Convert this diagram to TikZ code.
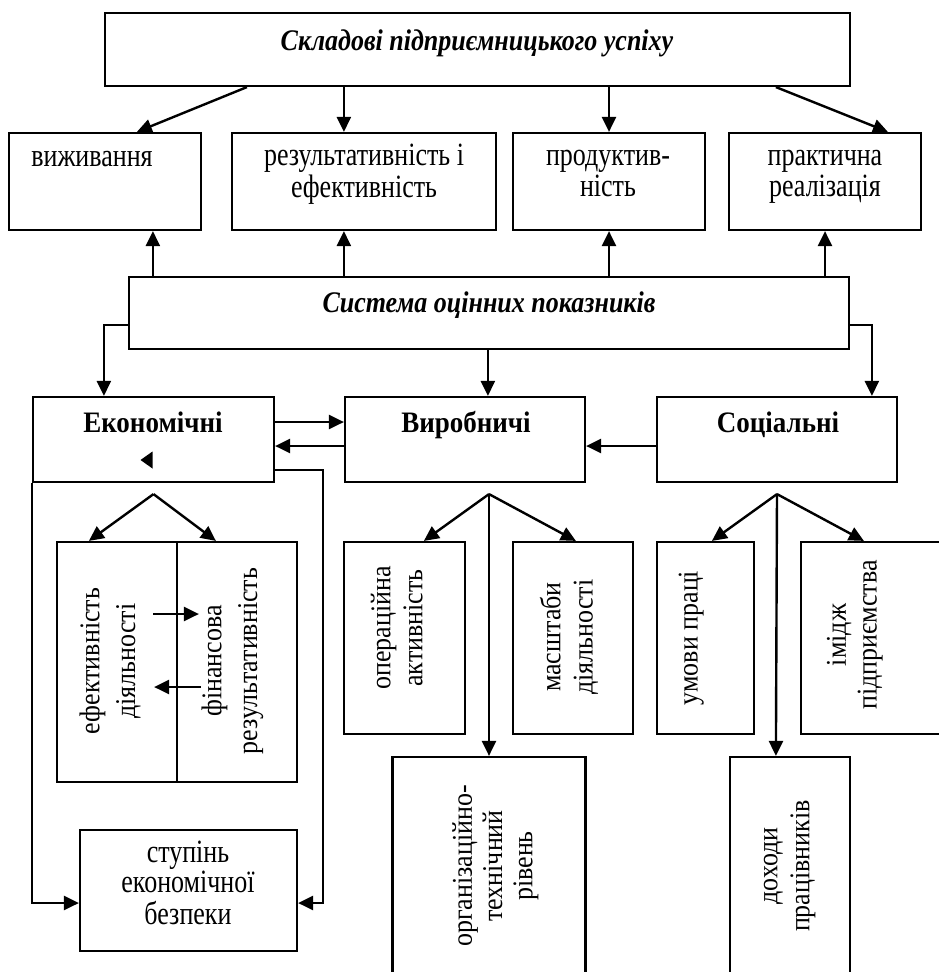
\documentclass[tikz,border=0pt]{standalone}
\usepackage{fontspec}
\usepackage{graphicx}
\setmainfont{Liberation Serif}
\usetikzlibrary{arrows.meta,calc}
\newcommand{\stretchtxt}[2]{\scalebox{1}[#1]{\begin{tabular}{@{}c@{}}#2\end{tabular}}}
\begin{document}
\begin{tikzpicture}[x=1pt,y=-1pt,
  box/.style={draw,line width=2.2pt,inner sep=0pt},
  lbl/.style={align=center,inner sep=0pt,font=\fontsize{26}{24}\selectfont},
  vlbl/.style={lbl,rotate=90},
  arr/.style={line width=2.4pt,-{Triangle[length=15pt,width=14pt]}},
  ln/.style={line width=2.4pt}]
\useasboundingbox (0,0) rectangle (939,972);
\fill[white] (0,0) rectangle (939,972);
\clip (0,0) rectangle (939,972);

% top
\node[box,minimum width=745pt,minimum height=73pt] (top) at (477.5,49.5) {};
\node[lbl,font=\fontsize{26}{24}\selectfont\bfseries\itshape] (toptxt) at (477,44) {\stretchtxt{1.15}{Складові підприємницького успіху}};

% row 2
\node[box,minimum width=192pt,minimum height=97pt] (viz) at (105,181.5) {};
\node[box,minimum width=264pt,minimum height=97pt] (rez) at (364,181.5) {};
\node[box,minimum width=192pt,minimum height=97pt] (prod) at (609,181.5) {};
\node[box,minimum width=192pt,minimum height=97pt] (prak) at (825,181.5) {};
\node[lbl] (viztxt) at (92,160) {\stretchtxt{1.25}{виживання}};
\node[lbl] (reztxt) at (364,175) {\stretchtxt{1.25}{результативність і\\ефективність}};
\node[lbl] (prodtxt) at (608,175) {\stretchtxt{1.25}{продуктив-\\ність}};
\node[lbl] (praktxt) at (825,175) {\stretchtxt{1.25}{практична\\реалізація}};

% system
\node[box,minimum width=720pt,minimum height=72pt] (sys) at (489,313) {};
\node[lbl,font=\fontsize{26}{24}\selectfont\bfseries\itshape] (systxt) at (489,306) {\stretchtxt{1.15}{Система оцінних показників}};

% row 3
\node[box,minimum width=241pt,minimum height=85pt] (ek) at (153.5,439.5) {};
\node[box,minimum width=240pt,minimum height=85pt] (vyr) at (465,439.5) {};
\node[box,minimum width=240pt,minimum height=85pt] (soc) at (777,439.5) {};
\node[lbl,font=\fontsize{27}{24}\selectfont\bfseries] (ektxt) at (153,426) {\stretchtxt{1.1}{Економічні}};
\node[lbl,font=\fontsize{27}{24}\selectfont\bfseries] (vyrtxt) at (466,426) {\stretchtxt{1.1}{Виробничі}};
\node[lbl,font=\fontsize{27}{24}\selectfont\bfseries] (soctxt) at (778,426) {\stretchtxt{1.1}{Соціальні}};

% economic sub-boxes
\node[box,minimum width=120pt,minimum height=240pt] (ef) at (117,662) {};
\node[box,minimum width=120pt,minimum height=240pt] (fin) at (237,662) {};
\node[vlbl,font=\fontsize{26}{32.5}\selectfont] (eftxt) at (110,661) {\stretchtxt{1.1}{ефективність\\діяльності}};
\node[vlbl,font=\fontsize{26}{32.5}\selectfont] (fintxt) at (232,661) {\stretchtxt{1.1}{фінансова\\результативність}};
\node[box,minimum width=217pt,minimum height=121pt] (stup) at (188.5,890.5) {};
\node[lbl,font=\fontsize{26}{23.2}\selectfont] (stuptxt) at (188,887) {\stretchtxt{1.25}{ступінь\\економічної\\безпеки}};

% production sub-boxes
\node[box,minimum width=121pt,minimum height=192pt] (oper) at (404.5,638) {};
\node[box,minimum width=120pt,minimum height=192pt] (masht) at (573,638) {};
\node[box,minimum width=193pt,minimum height=250pt] (org) at (489,882) {};
\node[vlbl,font=\fontsize{26}{29}\selectfont] (opertxt) at (400,628) {\stretchtxt{1.1}{операційна\\активність}};
\node[vlbl,font=\fontsize{26}{29.5}\selectfont] (mashttxt) at (570,637) {\stretchtxt{1.1}{масштаби\\діяльності}};
\node[vlbl,font=\fontsize{26}{27.5}\selectfont] (orgtxt) at (496,866) {\stretchtxt{1.1}{організаційно-\\технічний\\рівень}};

% social sub-boxes
\node[box,minimum width=97pt,minimum height=192pt] (umov) at (705.5,638) {};
\node[box,minimum width=160pt,minimum height=192pt] (imid) at (881,638) {};
\node[box,minimum width=120pt,minimum height=250pt] (dox) at (790,882) {};
\node[vlbl] (umovtxt) at (692,638) {\stretchtxt{1.1}{умови праці}};
\node[vlbl,font=\fontsize{26}{28}\selectfont] (imidtxt) at (855,635) {\stretchtxt{1.1}{імідж\\підприємства}};
\node[vlbl,font=\fontsize{26}{29}\selectfont] (doxtxt) at (787,866) {\stretchtxt{1.1}{доходи\\працівників}};

% top -> row 2
\draw[arr] ($(top.south west)+(143,0)$) -- ($(viz.north west)+(129,0)$);
\draw[arr] ($(top.south west)+(240,0)$) -- ($(rez.north west)+(113,0)$);
\draw[arr] (top.south -| prod.north) -- (prod.north);
\draw[arr] ($(top.south west)+(672,0)$) -- ($(prak.north west)+(160,0)$);

% system -> row 2
\draw[arr] ($(sys.north west)+(25,0)$) -- ($(viz.south west)+(145,0)$);
\draw[arr] ($(sys.north west)+(216,0)$) -- ($(rez.south west)+(113,0)$);
\draw[arr] (sys.north -| prod.south) -- (prod.south);
\draw[arr] (sys.north -| prak.south) -- (prak.south);

% system -> row 3
\draw[arr] ($(sys.west)+(0,12)$) -| ($(ek.north west)+(72,0)$);
\draw[arr] ($(sys.south west)+(360,0)$) -- ($(vyr.north west)+(144,0)$);
\draw[arr] ($(sys.east)+(0,12)$) -| ($(soc.north west)+(216,0)$);

% row 3 cross arrows
\draw[arr] ($(ek.east)+(0,-17.5)$) -- ($(vyr.west)+(0,-17.5)$);
\draw[arr] ($(vyr.west)+(0,6.5)$) -- ($(ek.east)+(0,6.5)$);
\draw[arr] ($(soc.west)+(0,6.5)$) -- ($(vyr.east)+(0,6.5)$);
\fill ($(ek.center)+(-13,20.5)$) -- ($(ek.center)+(-1,12)$) -- ($(ek.center)+(-1,29)$) -- cycle;

% economic branches
\coordinate (ea) at ($(ek.south)+(0,11)$);
\draw[arr] (ea) -- ($(ef.north west)+(33,0)$);
\draw[arr] (ea) -- ($(fin.north west)+(40,0)$);
\draw[arr] ($(ef.east)+(-25,-48)$) -- ($(fin.west)+(23,-48)$);
\draw[arr] ($(fin.west)+(25,25)$) -- ($(ef.east)+(-24,25)$);
\draw[arr] (ek.south west) |- ($(stup.west)+(0,12.5)$);
\draw[arr] ($(ek.east)+(0,30.5)$) -- ++(48,0) |- ($(stup.east)+(0,12.5)$);

% production branches
\coordinate (va) at ($(vyr.south)+(24,11)$);
\draw[arr] (va) -- ($(oper.north west)+(81,0)$);
\draw[arr] (va) -- ($(masht.north west)+(64,0)$);
\draw[arr] (va) -- (org.north);

% social branches
\coordinate (sa) at ($(soc.south)+(0,11)$);
\draw[arr] (sa) -- ($(umov.north west)+(56,0)$);
\draw[arr] (sa) -- ($(imid.north west)+(64,0)$);
\draw[arr] (sa) -- ($(dox.north west)+(47,0)$);
\end{tikzpicture}
\end{document}
